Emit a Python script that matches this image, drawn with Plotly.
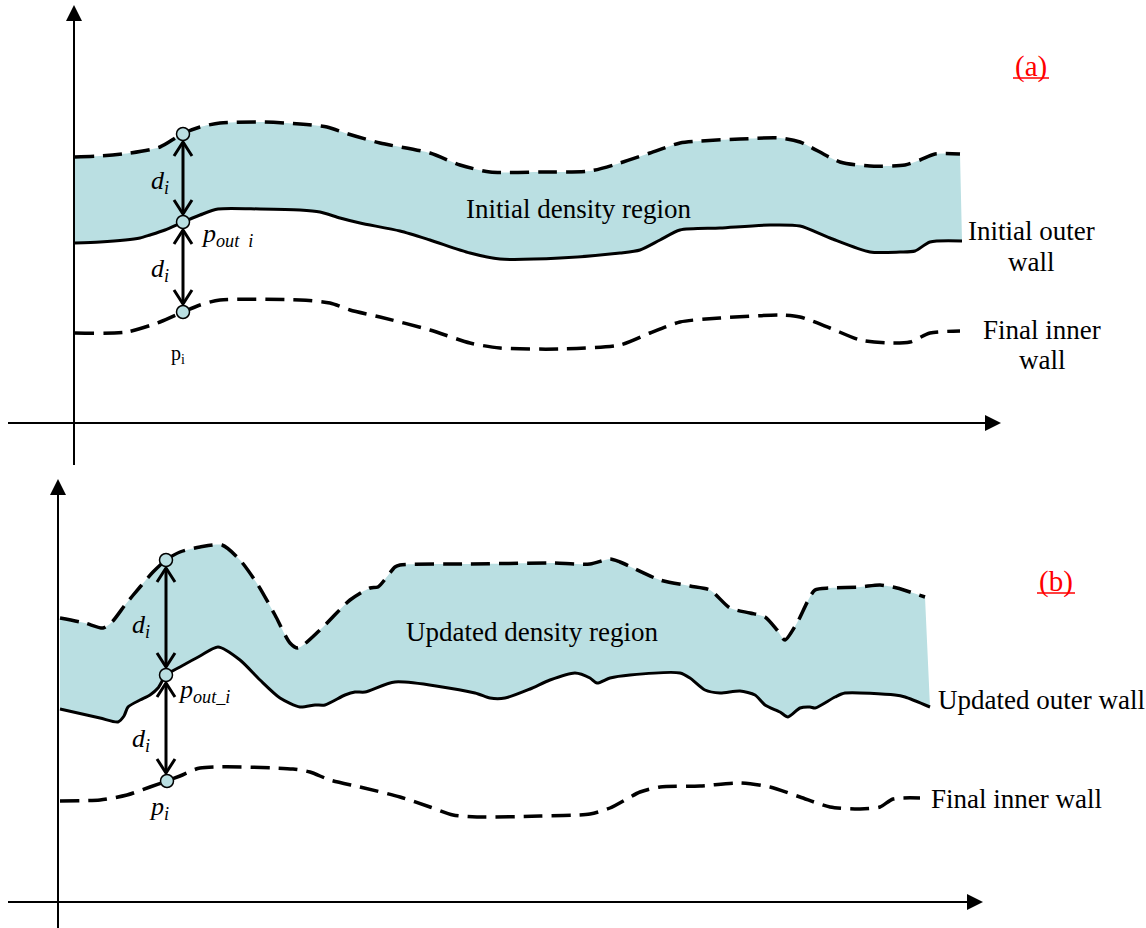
import plotly.graph_objects as go

# ---------------- Data: schematic curves (pixel-space coordinates) ----------------
# Panel (a)
a_upper_x = [75, 100, 130, 160, 182, 200, 220, 260, 300, 327, 345, 380, 430, 460, 490, 540, 590, 620, 650,
             680, 700, 740, 780, 800, 840, 870, 905, 920, 935, 960]
a_upper_y = [157, 156, 153, 147, 134, 127, 123, 122, 124, 127, 133, 143, 153, 165, 172, 172, 171, 163, 153,
             143, 141, 139, 138, 142, 162, 166, 165, 160, 154, 154]

a_outer_x = [75, 100, 140, 150, 165, 183, 200, 218, 260, 300, 320, 340, 360, 400, 430, 470, 500, 560, 620,
             640, 660, 680, 720, 770, 800, 830, 870, 900, 915, 930, 962]
a_outer_y = [243, 242, 238, 235, 230, 222, 215, 209, 209, 210, 212, 218, 223, 231, 240, 253, 259, 258, 253,
             250, 240, 230, 228, 225, 226, 238, 252, 252, 251, 242, 241]

a_inner_x = [75, 127, 160, 183, 200, 220, 300, 330, 350, 380, 430, 470, 500, 560, 620, 650, 680, 720, 780,
             800, 830, 860, 890, 910, 930, 960]
a_inner_y = [333, 332, 322, 312, 305, 300, 300, 303, 310, 317, 330, 343, 348, 349, 345, 333, 322, 318, 315,
             317, 328, 340, 343, 342, 333, 331]

a_probe_x = [183, 183, 183]
a_probe_y = [134, 222, 312]

# Panel (b)
b_upper_x = [60, 85, 103, 112, 125, 140, 153, 166, 180, 200, 222, 240, 258, 275, 290, 298, 320, 350, 370,
             378, 395, 400, 470, 550, 590, 610, 620, 660, 690, 710, 730, 750, 765, 777, 785, 797, 815, 830,
             860, 880, 897, 925]
b_upper_y = [618, 623, 628, 622, 605, 587, 572, 560, 552, 547, 545, 560, 585, 615, 643, 648, 630, 600, 588,
             587, 567, 565, 564, 563, 564, 559, 562, 580, 586, 590, 608, 613, 617, 630, 640, 623, 590, 588,
             587, 585, 588, 597]

b_outer_x = [60, 100, 118, 124, 128, 140, 150, 158, 166, 180, 200, 218, 240, 260, 280, 300, 315, 325, 345,
             355, 365, 395, 475, 490, 505, 530, 550, 575, 590, 597, 610, 630, 680, 690, 705, 720, 740, 755,
             765, 780, 788, 800, 810, 815, 835, 845, 895, 905, 930]
b_outer_y = [709, 718, 722, 716, 707, 700, 695, 688, 675, 667, 656, 647, 660, 680, 698, 707, 705, 705, 695,
             692, 692, 682, 693, 698, 698, 689, 680, 673, 678, 683, 678, 675, 673, 678, 690, 693, 691, 695,
             705, 712, 717, 708, 707, 708, 697, 693, 695, 697, 707]

b_inner_x = [60, 100, 127, 150, 167, 180, 200, 293, 310, 330, 360, 400, 430, 453, 477, 540, 590, 610, 640,
             660, 700, 740, 770, 800, 830, 860, 880, 893, 920]
b_inner_y = [801, 800, 795, 787, 781, 776, 768, 769, 772, 780, 787, 797, 807, 815, 817, 816, 814, 808, 792,
             787, 786, 783, 787, 797, 807, 809, 807, 799, 798]

b_probe_x = [166, 166, 167]
b_probe_y = [560, 675, 781]

# ---------------- Styles ----------------
FILL = "#BADFE2"
FONT = "Times New Roman, Liberation Serif, serif"
W, H = 1146, 928
SMOOTH = 0.7
DASH = dict(color="black", width=3.5, dash="19px,9px", shape="spline", smoothing=SMOOTH)
SOLID = dict(color="black", width=3, shape="spline", smoothing=SMOOTH)
TIP, HW, HL = 8, 9, 14

fig = go.Figure()


def band(ux, uy, lx, ly):
    fig.add_trace(go.Scatter(x=ux, y=uy, mode="lines", hoverinfo="skip",
                             line=dict(width=0, shape="spline", smoothing=SMOOTH)))
    fig.add_trace(go.Scatter(x=lx, y=ly, mode="lines", hoverinfo="skip", fill="tonexty",
                             fillcolor=FILL, line=dict(width=0, shape="spline", smoothing=SMOOTH)))


def curve(xs, ys, style):
    fig.add_trace(go.Scatter(x=xs, y=ys, mode="lines", line=style, hoverinfo="skip"))


def double_arrow(x, y_top, y_bot):
    t, b = y_top + TIP, y_bot - TIP
    st = dict(color="black", width=3)
    fig.add_trace(go.Scatter(x=[x, x], y=[t, b], mode="lines", line=st, hoverinfo="skip"))
    fig.add_trace(go.Scatter(x=[x - HW, x, x + HW], y=[t + HL, t, t + HL], mode="lines", line=st,
                             hoverinfo="skip"))
    fig.add_trace(go.Scatter(x=[x - HW, x, x + HW], y=[b - HL, b, b - HL], mode="lines", line=st,
                             hoverinfo="skip"))


def probes(xs, ys):
    fig.add_trace(go.Scatter(x=xs, y=ys, mode="markers", hoverinfo="skip",
                             marker=dict(size=13, color=FILL, line=dict(color="black", width=1.5))))


# Panel (a)
band(a_upper_x, a_upper_y, a_outer_x, a_outer_y)
curve(a_upper_x, a_upper_y, DASH)
curve(a_outer_x, a_outer_y, SOLID)
curve(a_inner_x, a_inner_y, DASH)
double_arrow(a_probe_x[0], a_probe_y[0], a_probe_y[1])
double_arrow(a_probe_x[1], a_probe_y[1], a_probe_y[2])
probes(a_probe_x, a_probe_y)

# Panel (b)
band(b_upper_x, b_upper_y, b_outer_x, b_outer_y)
curve(b_upper_x, b_upper_y, DASH)
curve(b_outer_x, b_outer_y, SOLID)
curve(b_inner_x, b_inner_y, DASH)
double_arrow(b_probe_x[0], b_probe_y[0], b_probe_y[1])
double_arrow(b_probe_x[1], b_probe_y[1], b_probe_y[2])
probes(b_probe_x, b_probe_y)

# ---------------- Coordinate axes with arrow heads ----------------
AXES = [
    dict(vx=74, vy0=465, vy1=5, hy=423, hx0=8, hx1=1001),
    dict(vx=58, vy0=935, vy1=479, hy=902, hx0=8, hx1=983),
]
for ax in AXES:
    fig.add_shape(type="line", x0=ax["vx"], x1=ax["vx"], y0=ax["vy0"], y1=ax["vy1"] + 14,
                  line=dict(color="black", width=2))
    fig.add_shape(type="path", fillcolor="black", line=dict(width=0),
                  path=f"M {ax['vx']} {ax['vy1']} L {ax['vx'] - 8} {ax['vy1'] + 16} "
                       f"L {ax['vx'] + 8} {ax['vy1'] + 16} Z")
    fig.add_shape(type="line", x0=ax["hx0"], x1=ax["hx1"] - 14, y0=ax["hy"], y1=ax["hy"],
                  line=dict(color="black", width=2))
    fig.add_shape(type="path", fillcolor="black", line=dict(width=0),
                  path=f"M {ax['hx1']} {ax['hy']} L {ax['hx1'] - 16} {ax['hy'] - 8} "
                       f"L {ax['hx1'] - 16} {ax['hy'] + 8} Z")

# ---------------- Text ----------------
def label(x, y, text, size=26, color="black", xanchor="center"):
    fig.add_annotation(x=x, y=y, text=text, showarrow=False, xanchor=xanchor, yanchor="middle",
                       font=dict(family=FONT, size=size, color=color))


def panel_tag(x, y, text, half_width):
    label(x, y, text, size=29, color="red")
    fig.add_shape(type="line", x0=x - half_width, x1=x + half_width, y0=y + 12, y1=y + 12,
                  line=dict(color="red", width=1.5))


panel_tag(1031, 66, "(a)", 18)
label(578, 209, "Initial density region", size=27)
label(1031, 231, "Initial outer", size=27)
label(1031, 262, "wall", size=27)
label(1042, 330, "Final inner", size=27)
label(1042, 360, "wall", size=27)
label(160, 182, "<i>d<sub>i</sub></i>")
label(160, 270, "<i>d<sub>i</sub></i>")
label(199, 235, "<i>p<sub>out\u00a0\u00a0i</sub></i>", xanchor="left")
label(178, 354, "p<sub>i</sub>", size=20)

panel_tag(1056, 581, "(b)", 19)
label(532, 632, "Updated density region", size=27)
label(936, 700, "Updated outer wall", size=27, xanchor="left")
label(929, 799, "Final inner wall", size=27, xanchor="left")
label(141, 626, "<i>d<sub>i</sub></i>")
label(141, 740, "<i>d<sub>i</sub></i>")
label(176, 691, "<i>p<sub>out_i</sub></i>", xanchor="left")
label(159, 808, "<i>p<sub>i</sub></i>")

fig.update_layout(
    width=W, height=H,
    margin=dict(l=0, r=0, t=0, b=0),
    paper_bgcolor="white", plot_bgcolor="white",
    showlegend=False,
    xaxis=dict(range=[0, W], visible=False, fixedrange=True),
    yaxis=dict(range=[H, 0], visible=False, fixedrange=True),
)

fig.write_html("out.html", config={"displayModeBar": False},
               post_script="document.body.style.margin='0px';")
